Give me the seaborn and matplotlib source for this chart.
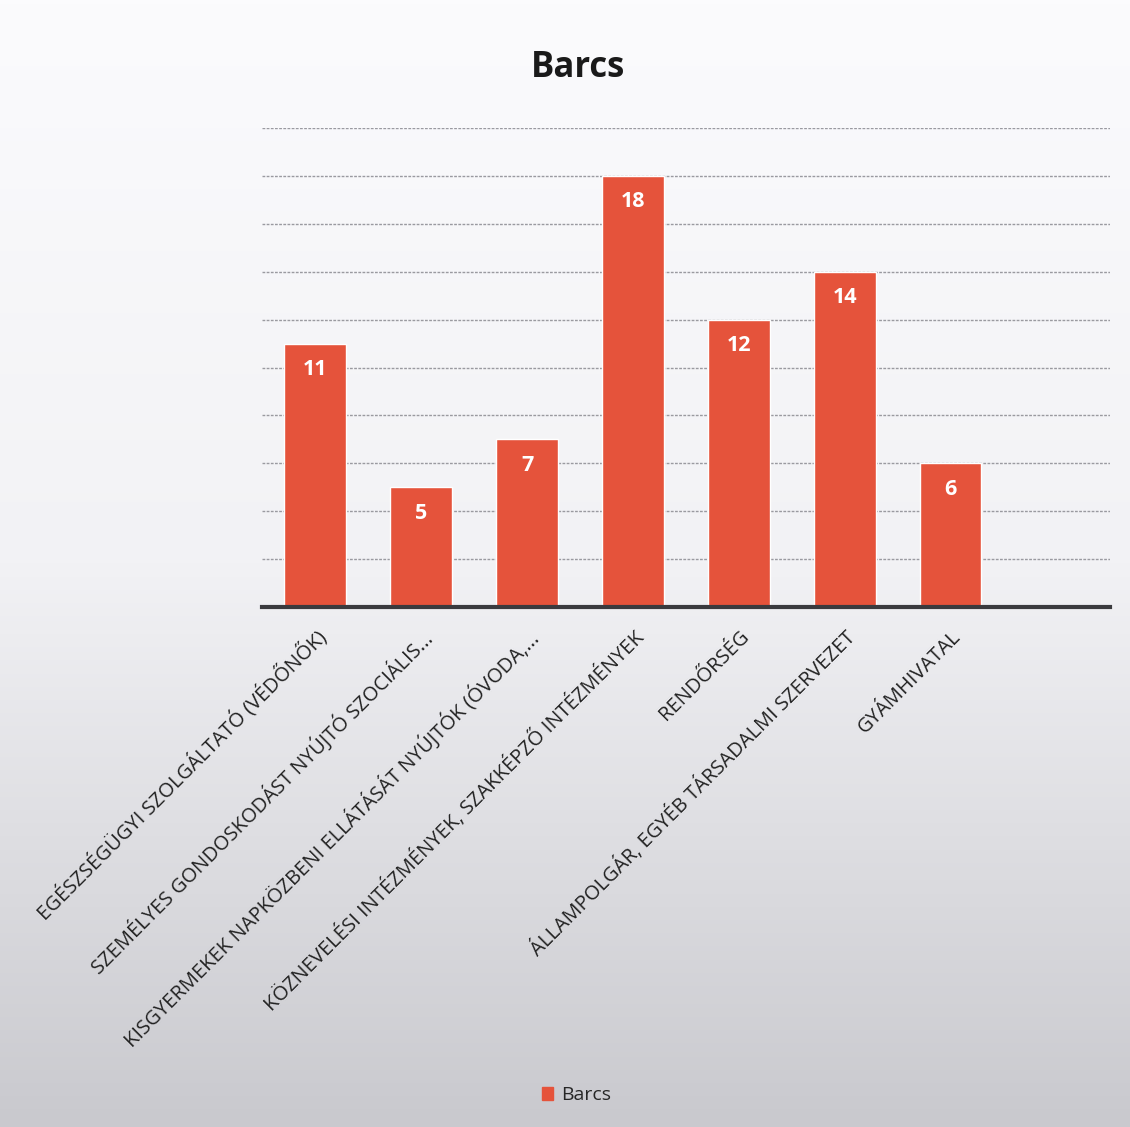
import numpy as np
import pandas as pd
import seaborn as sns
import matplotlib.pyplot as plt
from matplotlib.patches import Patch
from matplotlib.colors import LinearSegmentedColormap

categories = [
    "EGÉSZSÉGÜGYI SZOLGÁLTATÓ (VÉDŐNŐK)",
    "SZEMÉLYES GONDOSKODÁST NYÚJTÓ SZOCIÁLIS...",
    "KISGYERMEKEK NAPKÖZBENI ELLÁTÁSÁT NYÚJTÓK (ÓVODA,...",
    "KÖZNEVELÉSI INTÉZMÉNYEK, SZAKKÉPZŐ INTÉZMÉNYEK",
    "RENDŐRSÉG",
    "ÁLLAMPOLGÁR, EGYÉB TÁRSADALMI SZERVEZET",
    "GYÁMHIVATAL",
]
values = [11, 5, 7, 18, 12, 14, 6]
series_name = "Barcs"
bar_color = "#E5533B"

sns.set_theme(style="white")
plt.rcParams['font.family'] = ['Open Sans', 'DejaVu Sans']

fig = plt.figure(figsize=(11.3, 11.27), dpi=100)

# scanned-page look: light gradient from top to bottom
bg = fig.add_axes([0, 0, 1, 1], zorder=-10)
grad = np.linspace(0, 1, 256).reshape(-1, 1)
bg.imshow(grad, aspect='auto', extent=[0, 1, 0, 1], origin='upper',
          cmap=LinearSegmentedColormap.from_list('pg', ['#FBFBFD', '#F2F2F5', '#C9C9CE']))
bg.axis('off')

ax = fig.add_axes([0.232, 0.4614, 0.75, 0.425])
ax.patch.set_alpha(0)

df = pd.DataFrame({'category': categories, 'value': values})
sns.barplot(data=df, x='category', y='value', color=bar_color, width=0.58,
            saturation=1, ax=ax)

ax.set_xlim(-0.5, 7.5)
ax.set_ylim(0, 20)
ax.set_yticks(np.arange(0, 21, 2))
ax.set_yticklabels([])
ax.tick_params(axis='y', length=0)
ax.yaxis.grid(True, color='#9A9AA0', linewidth=1.0, linestyle=(0, (2, 1)))
ax.set_axisbelow(True)
for s in ['top', 'right', 'left']:
    ax.spines[s].set_visible(False)
ax.spines['bottom'].set_color('#3A3A3E')
ax.spines['bottom'].set_linewidth(3)
ax.set_xlabel('')
ax.set_ylabel('')

ax.set_xticks(range(len(categories)))
ax.set_xticklabels(categories, rotation=45, ha='right', rotation_mode='anchor',
                   fontsize=14.5, color='#222222')
ax.tick_params(axis='x', length=0, pad=14)

for i, v in enumerate(values):
    ax.text(i, v - 0.65, str(v), ha='center', va='top', color='white',
            fontsize=15.5, fontweight='bold')

fig.text(0.512, 0.94, "Barcs", ha='center', va='center', fontsize=25,
         fontweight='bold', color='#1A1A1A')

fig.legend(handles=[Patch(color=bar_color, label=series_name)],
           loc='center', bbox_to_anchor=(0.51, 0.028), frameon=False,
           fontsize=14, handlelength=0.6, handleheight=0.6, handletextpad=0.4)

fig.savefig('out.png', dpi=100)
